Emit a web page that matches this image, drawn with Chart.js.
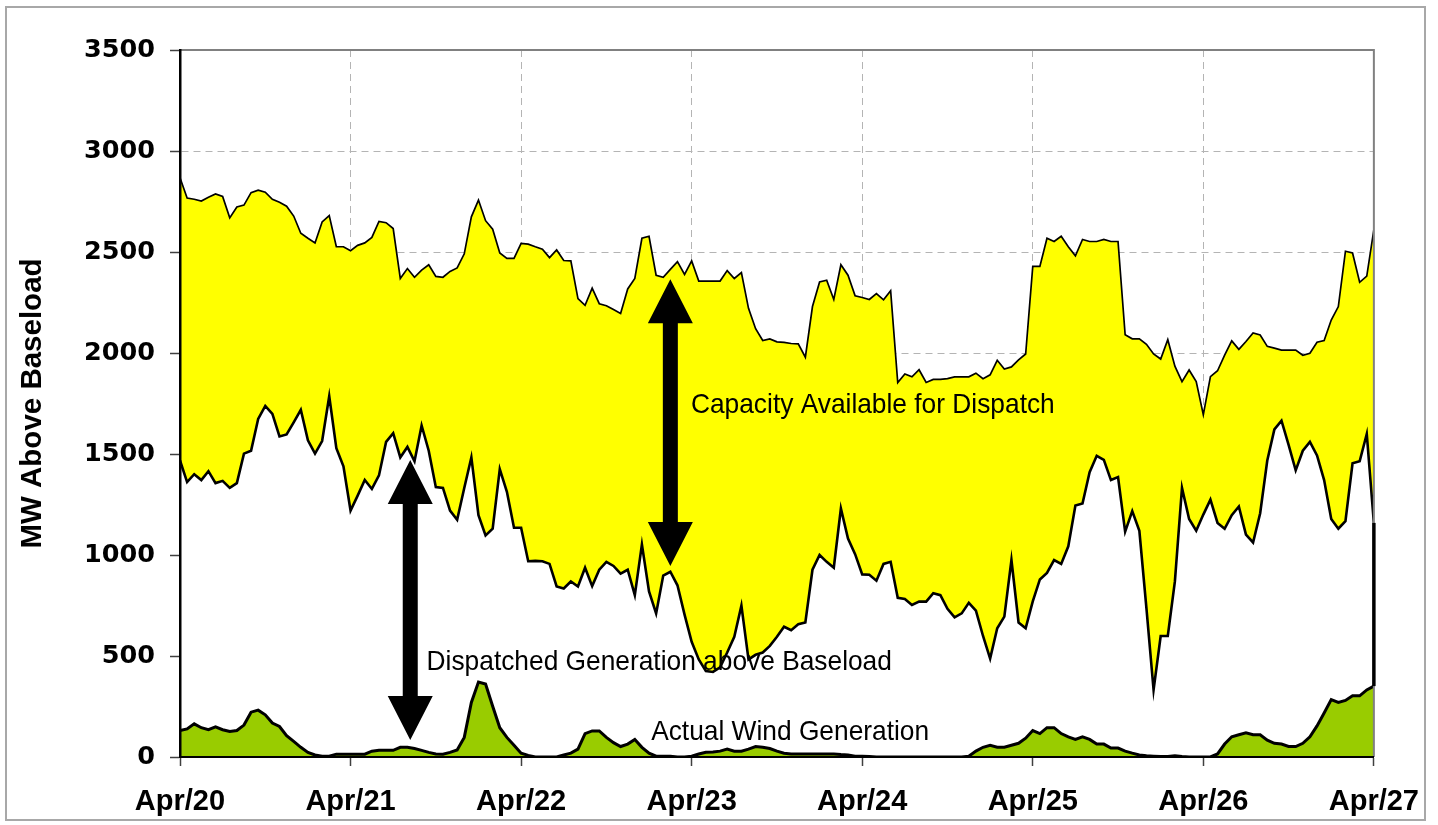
<!DOCTYPE html>
<html>
<head>
<meta charset="utf-8">
<script src="https://cdn.jsdelivr.net/npm/chart.js@4"></script>
<style>
  html, body { margin: 0; background: #fff; }
  #wrap { width: 1438px; height: 825px; position: relative; }
</style>
</head>
<body>
<div id="wrap"><canvas id="myChart"></canvas></div>
<script>
const dayLabels = ['Apr/20', 'Apr/21', 'Apr/22', 'Apr/23', 'Apr/24', 'Apr/25', 'Apr/26', 'Apr/27'];

// hourly values, MW above baseload
const capacityTop = [
  2868, 2767, 2761, 2752, 2771, 2787, 2775, 2669, 2723, 2732, 2794, 2806, 2796, 2761, 2746, 2727, 2678, 2593, 2568, 2545, 2649, 2680, 2526, 2526,
  2506, 2533, 2545, 2572, 2651, 2645, 2616, 2369, 2418, 2375, 2410, 2437, 2379, 2375, 2404, 2421, 2491, 2674, 2757, 2655, 2613, 2495, 2468, 2468,
  2543, 2539, 2526, 2514, 2472, 2510, 2458, 2456, 2269, 2236, 2321, 2244, 2234, 2215, 2196, 2317, 2369, 2568, 2578, 2385, 2375, 2414, 2452, 2389,
  2456, 2356, 2356, 2356, 2356, 2408, 2369, 2398, 2221, 2120, 2062, 2070, 2055, 2053, 2047, 2045, 1979, 2230, 2352, 2360, 2265, 2437, 2385, 2283,
  2275, 2265, 2294, 2263, 2308, 1854, 1896, 1882, 1917, 1854, 1869, 1869, 1873, 1882, 1882, 1882, 1900, 1873, 1892, 1964, 1921, 1931, 1966, 1995,
  2429, 2429, 2568, 2552, 2578, 2526, 2481, 2562, 2552, 2552, 2562, 2552, 2552, 2090, 2070, 2070, 2043, 1995, 1970, 2066, 1935, 1858, 1916, 1858,
  1695, 1883, 1912, 1989, 2060, 2018, 2057, 2099, 2089, 2033, 2024, 2014, 2014, 2014, 1989, 1999, 2053, 2062, 2163, 2230, 2504, 2495, 2350, 2381,
  2611
];

const dispatched = [
  1468, 1361, 1400, 1371, 1415, 1356, 1367, 1332, 1356, 1502, 1516, 1674, 1738, 1699, 1587, 1597, 1657, 1719, 1568, 1502, 1564, 1786, 1529, 1439,
  1220, 1294, 1371, 1327, 1394, 1560, 1603, 1483, 1535, 1464, 1641, 1516, 1336, 1332, 1220, 1174, 1332, 1483, 1197, 1097, 1130, 1425, 1313, 1135,
  1135, 969, 971, 969, 956, 844, 834, 869, 844, 937, 846, 927, 966, 946, 908, 927, 801, 1052, 820, 711, 898, 917, 850, 705,
  570, 483, 425, 421, 444, 517, 595, 749, 483, 506, 517, 550, 595, 645, 628, 657, 666, 927, 1000, 966, 937, 1230, 1081, 1004,
  904, 902, 873, 956, 966, 788, 782, 753, 769, 769, 811, 801, 734, 691, 711, 763, 724, 599, 487, 637, 695, 975, 666, 637,
  770, 879, 911, 975, 956, 1043, 1245, 1255, 1410, 1491, 1471, 1371, 1386, 1116, 1217, 1120, 734, 332, 599, 599, 869, 1332, 1178, 1120,
  1200, 1274, 1159, 1130, 1197, 1240, 1101, 1062, 1207, 1468, 1622, 1665, 1545, 1419, 1516, 1560, 1493, 1371, 1178, 1130, 1168, 1454, 1464, 1599,
  1159
];

const wind = [
  131, 139, 164, 145, 135, 149, 135, 126, 131, 158, 222, 232, 209, 168, 151, 106, 77, 48, 23, 10, 4, 4, 14, 14,
  14, 14, 14, 29, 33, 33, 33, 48, 48, 42, 33, 23, 15, 14, 23, 35, 97, 270, 371, 361, 251, 145, 97, 58,
  19, 8, 0, 0, 0, 0, 10, 19, 39, 116, 129, 129, 97, 71, 52, 64, 87, 48, 19, 4, 4, 4, 0, 0,
  4, 15, 23, 25, 29, 39, 29, 29, 39, 52, 48, 42, 29, 19, 15, 15, 15, 15, 15, 15, 15, 12, 10, 4,
  4, 2, 0, 0, 0, 0, 0, 0, 0, 0, 0, 0, 0, 0, 0, 4, 29, 48, 58, 48, 48, 58, 68, 93,
  131, 116, 145, 145, 116, 100, 87, 100, 87, 64, 64, 44, 44, 29, 19, 10, 6, 4, 2, 2, 6, 2, 0, 0,
  0, 0, 15, 64, 100, 110, 120, 110, 110, 83, 68, 64, 52, 52, 68, 100, 154, 218, 284, 270, 280, 303, 303, 332,
  351
];

const hours = capacityTop.map((_, i) => i);

// text and double arrows placed in data units (hours, MW)
const notes = [
  { text: 'Capacity Available for Dispatch', x: 71.9, y: 1703 },
  { text: 'Dispatched Generation above Baseload', x: 34.7, y: 431 },
  { text: 'Actual Wind Generation', x: 66.3, y: 84 }
];
const arrows = [
  { x: 32.4, from: 1470, to: 84 },
  { x: 69.0, from: 2365, to: 946 }
];

const FONT = '"Liberation Sans", Arial, Helvetica, sans-serif';

function drawArrow(c, px, y1, y2) {
  const hw = 22.5, hl = 44, sw = 7.5;
  c.beginPath();
  c.moveTo(px, y1);
  c.lineTo(px + hw, y1 + hl);
  c.lineTo(px + sw, y1 + hl);
  c.lineTo(px + sw, y2 - hl);
  c.lineTo(px + hw, y2 - hl);
  c.lineTo(px, y2);
  c.lineTo(px - hw, y2 - hl);
  c.lineTo(px - sw, y2 - hl);
  c.lineTo(px - sw, y1 + hl);
  c.lineTo(px - hw, y1 + hl);
  c.closePath();
  c.fill();
}

const decorations = {
  id: 'decorations',
  beforeDraw(chart) {
    const c = chart.ctx;
    c.save();
    c.fillStyle = '#fff';
    c.fillRect(0, 0, chart.width, chart.height);
    c.strokeStyle = '#a8a8a8';
    c.lineWidth = 2;
    c.strokeRect(6, 7, 1419, 813);
    c.restore();
  },
  afterDatasetsDraw(chart) {
    const { ctx: c, chartArea: a, scales: { x, y } } = chart;
    c.save();
    // plot area frame (top and right)
    c.strokeStyle = '#808080';
    c.lineWidth = 2;
    c.beginPath();
    c.moveTo(a.left, a.top);
    c.lineTo(a.right, a.top);
    c.lineTo(a.right, a.bottom);
    c.stroke();

    // closing edge of the dispatched area
    const last = hours.length - 1;
    c.strokeStyle = '#000';
    c.lineWidth = 3.5;
    c.beginPath();
    c.moveTo(x.getPixelForValue(last), y.getPixelForValue(dispatched[last]));
    c.lineTo(x.getPixelForValue(last), y.getPixelForValue(wind[last]));
    c.stroke();

    c.fillStyle = '#000';
    arrows.forEach(ar => {
      drawArrow(c, x.getPixelForValue(ar.x), y.getPixelForValue(ar.from), y.getPixelForValue(ar.to));
    });

    c.font = '28px ' + FONT;
    c.textAlign = 'left';
    c.textBaseline = 'alphabetic';
    notes.forEach(n => {
      c.save();
      c.translate(x.getPixelForValue(n.x), y.getPixelForValue(n.y));
      c.scale(0.94, 1);
      c.fillText(n.text, 0, 0);
      c.restore();
    });
    c.restore();
  }
};

const ctx = document.getElementById('myChart').getContext('2d');

const config = {
  type: 'line',
  data: {
    labels: hours,
    datasets: [
      {
        label: 'Actual Wind Generation',
        data: wind,
        borderColor: '#000',
        borderWidth: 3,
        backgroundColor: '#99CC00',
        fill: 'origin'
      },
      {
        label: 'Dispatched Generation above Baseload',
        data: dispatched,
        borderColor: '#000',
        borderWidth: 2.6,
        backgroundColor: '#fff',
        fill: 'origin'
      },
      {
        label: 'Capacity Available for Dispatch',
        data: capacityTop,
        borderColor: '#000',
        borderWidth: 1.7,
        backgroundColor: '#FFFF00',
        fill: '-1'
      }
    ]
  },
  options: {
    responsive: true,
    maintainAspectRatio: false,
    animation: false,
    layout: { padding: { top: 50, right: 59, bottom: 0, left: 0 } },
    elements: { point: { radius: 0 }, line: { tension: 0 } },
    plugins: { legend: { display: false }, tooltip: { enabled: false } },
    scales: {
      x: {
        type: 'linear',
        min: 0,
        max: 168,
        afterFit(s) { s.height = 68; },
        ticks: {
          stepSize: 24,
          autoSkip: false,
          maxRotation: 0,
          padding: 19,
          color: '#000',
          font: { family: FONT, size: 29, weight: 'bold' },
          callback: v => dayLabels[v / 24]
        },
        grid: { color: '#b4b4b4', tickLength: 9, tickColor: '#404040', tickWidth: 1.5 },
        border: { color: '#000', width: 2, dash: [7, 5], z: 1 }
      },
      y: {
        min: 0,
        max: 3500,
        afterFit(s) { s.width = 180; },
        ticks: {
          stepSize: 500,
          padding: 15,
          color: '#000',
          font: { family: '"DejaVu Sans", Verdana, sans-serif', size: 25.5, weight: 'bold' },
          callback: v => String(v)
        },
        grid: { color: '#b4b4b4', tickLength: 10, tickColor: '#404040', tickWidth: 1.5 },
        border: { color: '#000', width: 2.5, dash: [7, 5], z: 1 },
        title: {
          display: true,
          text: 'MW Above Baseload',
          color: '#000',
          font: { family: FONT, size: 29.5, weight: 'bold' },
          padding: { top: 15, bottom: 0 }
        }
      }
    }
  },
  plugins: [decorations]
};

const myChart = new Chart(ctx, config);
</script>
</body>
</html>
